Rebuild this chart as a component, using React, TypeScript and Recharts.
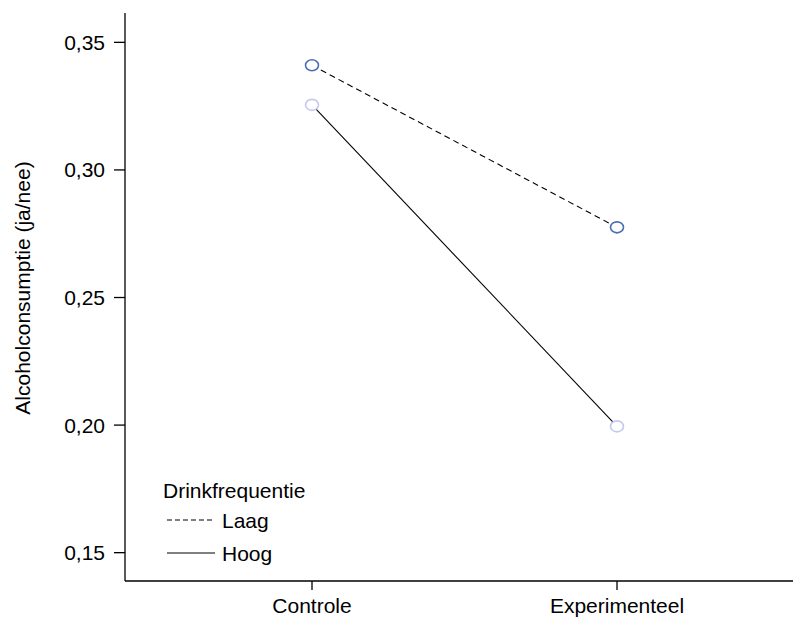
import React from 'react';
import { LineChart, Line, XAxis, YAxis, Legend, Label } from 'recharts';

// values
const groups = ['Controle', 'Experimenteel'];
const laag = [0.341, 0.2775];
const hoog = [0.3255, 0.1995];
const yTicks = [0.15, 0.2, 0.25, 0.3, 0.35];

const data = groups.map((g, i) => ({ x: i + 1, name: g, laag: laag[i], hoog: hoog[i] }));

const FONT = '"Liberation Sans", Arial, Helvetica, sans-serif';
const FS = 21;

const makeDot = (color: string) => (props: any) => {
  const { cx, cy, index } = props;
  if (cx == null || cy == null) return <g key={index} />;
  return <ellipse key={index} cx={cx} cy={cy} rx={6.5} ry={5.5} fill="#fff" stroke={color} strokeWidth={1.6} />;
};

const renderLegend = () => (
  <svg width={220} height={100} style={{ display: 'block', overflow: 'visible' }}>
    <text x={3} y={20} dy="0.36em" fontSize={FS} fontFamily={FONT} fill="#000">Drinkfrequentie</text>
    <line x1={7} x2={55} y1={50} y2={50} stroke="#000" strokeWidth={1.1} strokeDasharray="5 3" />
    <text x={62} y={50} dy="0.36em" fontSize={FS} fontFamily={FONT} fill="#000">Laag</text>
    <line x1={7} x2={55} y1={83} y2={83} stroke="#000" strokeWidth={1.1} />
    <text x={62} y={83} dy="0.36em" fontSize={FS} fontFamily={FONT} fill="#000">Hoog</text>
  </svg>
);

const YLabel = (props: any) => {
  return (
    <text
      x={22}
      y={288}
      transform="rotate(-90 22 288)"
      textAnchor="middle"
      dominantBaseline="central"
      fontSize={FS}
      fontFamily={FONT}
      fill="#000"
    >
      Alcoholconsumptie (ja/nee)
    </text>
  );
};

export default function App() {
  const tickStyle = { fill: '#000', fontSize: FS, fontFamily: FONT };
  return (
    <div style={{ position: 'absolute', left: 0, top: 0, width: 793, height: 619, overflow: 'hidden', background: '#fff' }}>
      <LineChart width={793} height={619} data={data} margin={{ top: 13, right: 0, bottom: 0, left: 0 }}>
        <XAxis
          dataKey="x"
          type="number"
          domain={[0.3869, 2.577]}
          ticks={[1, 2]}
          tickFormatter={(v: number) => groups[v - 1] ?? ''}
          height={38}
          tickSize={9}
          tickMargin={8}
          tick={tickStyle}
          stroke="#000"
          strokeWidth={1.3}
          interval={0}
        />
        <XAxis
          xAxisId="top"
          orientation="top"
          type="number"
          domain={[0.3869, 2.577]}
          height={0}
          tick={false}
          tickLine={false}
          stroke="#000"
          strokeWidth={1.3}
        />
        <YAxis
          type="number"
          domain={[0.1389, 0.3615]}
          ticks={yTicks}
          allowDataOverflow
          width={125}
          tickSize={11}
          tickMargin={9}
          tick={tickStyle}
          tickFormatter={(v: number) => v.toFixed(2).replace('.', ',')}
          stroke="#000"
          strokeWidth={1.3}
          interval={0}
        >
          <Label content={<YLabel />} />
        </YAxis>
        <Legend
          layout="vertical"
          align="center"
          verticalAlign="middle"
          content={renderLegend}
          wrapperStyle={{ position: 'absolute', left: 160, top: 470, width: 220, height: 100 }}
        />
        <Line
          type="linear"
          dataKey="laag"
          name="Laag"
          stroke="#000"
          strokeWidth={1.1}
          strokeDasharray="6 4"
          dot={makeDot('#4a6fb5')}
          activeDot={false}
          isAnimationActive={false}
        />
        <Line
          type="linear"
          dataKey="hoog"
          name="Hoog"
          stroke="#000"
          strokeWidth={1.1}
          dot={makeDot('#c2c9ec')}
          activeDot={false}
          isAnimationActive={false}
        />
      </LineChart>
    </div>
  );
}
